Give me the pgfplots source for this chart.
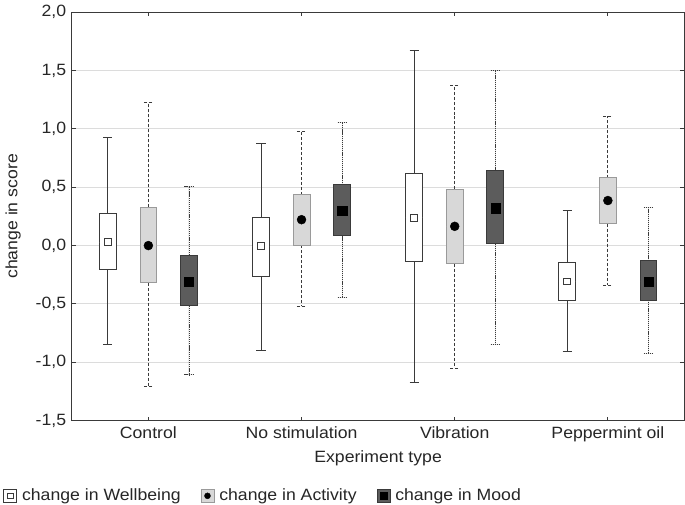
\documentclass[border=0pt]{standalone}
\usepackage{fontspec}
\setmainfont[FakeStretch=1.08]{Liberation Sans}
\usepackage{pgfplots}
\pgfplotsset{compat=1.18}
\usepgfplotslibrary{statistics}
\definecolor{axgray}{HTML}{3A3A3A}
\definecolor{actfill}{HTML}{D8D8D8}
\definecolor{actdraw}{HTML}{9A9A9A}
\definecolor{moodfill}{HTML}{5C5C5C}
\definecolor{gridc}{HTML}{DCDCDC}
\pgfplotsset{
  wbox/.style={forget plot, draw=axgray, fill=white, line width=0.9pt, solid,
    boxplot/every whisker/.style={solid, draw=axgray},
    boxplot/every median/.style={draw=none}},
  abox/.style={forget plot, draw=actdraw, fill=actfill, line width=0.9pt, solid,
    boxplot/every whisker/.style={draw=axgray, dash pattern=on 3pt off 2pt},
    boxplot/every median/.style={draw=none}},
  mbox/.style={forget plot, draw=axgray, fill=moodfill, line width=0.9pt, solid,
    boxplot/every whisker/.style={draw=axgray, dash pattern=on 1.2pt off 0.9pt},
    boxplot/every median/.style={draw=none}},
}
\newcommand{\bp}[7]{\addplot[#1, boxplot/draw direction=y, boxplot prepared={draw position=#2, lower whisker=#3, lower quartile=#4, median=#5, upper quartile=#6, upper whisker=#7, box extend=0.11, whisker extend=0.06}] coordinates {};}
\begin{document}
\fontsize{16.4}{19}\selectfont
\begin{tikzpicture}
\begin{axis}[
  scale only axis, width=615pt, height=410pt,
  xmin=-0.5, xmax=3.5, ymin=-1.5, ymax=2.0,
  xtick={0,1,2,3},
  xticklabels={Control, No stimulation, Vibration, Peppermint oil},
  ytick={-1.5,-1.0,-0.5,0,0.5,1.0,1.5,2.0},
  yticklabel style={/pgf/number format/.cd, fixed, fixed zerofill, precision=1, use comma, assume math mode=true},
  ymajorgrids, grid style={gridc, line width=1pt},
  tick align=inside, tick pos=both, major tick length=4pt,
  tick style={axgray, line width=0.9pt},
  axis line style={axgray, line width=1.1pt},
  xlabel={Experiment type}, ylabel={change in score},
  xlabel style={yshift=2pt}, ylabel style={yshift=4pt},
  ticklabel style={text=black!85},
  label style={text=black!85},
  legend style={at={(axis description cs:-0.112,-0.207)}, anchor=south west, draw=none, fill=none,
    inner sep=0pt, legend columns=3, text=black!85,
    /tikz/every even column/.append style={column sep=18pt},
    /tikz/every odd column/.append style={column sep=3pt}},
  legend cell align=left,
]
\addlegendimage{legend image code/.code={\draw[fill=white, draw=axgray, line width=0.8pt] (0pt,-6.5pt) rectangle (13pt,6.5pt); \draw[fill=white, draw=axgray, line width=0.8pt] (3.8pt,-2.7pt) rectangle (9.2pt,2.7pt);}}
\addlegendentry{change in Wellbeing}
\addlegendimage{legend image code/.code={\draw[fill=actfill, draw=actdraw, line width=0.8pt] (0pt,-6.5pt) rectangle (13pt,6.5pt); \fill[black] (6.5pt,0pt) circle (3pt);}}
\addlegendentry{change in Activity}
\addlegendimage{legend image code/.code={\draw[fill=moodfill, draw=axgray, line width=0.8pt] (0pt,-6.5pt) rectangle (13pt,6.5pt); \fill[black] (3.2pt,-3.3pt) rectangle (9.8pt,3.3pt);}}
\addlegendentry{change in Mood}

% Control
\bp{wbox}{-0.265}{-0.85}{-0.205}{0.03}{0.275}{0.927}
\bp{abox}{0}{-1.205}{-0.32}{0.0}{0.33}{1.225}
\bp{mbox}{0.265}{-1.108}{-0.514}{-0.31}{-0.083}{0.505}
% No stimulation
\bp{wbox}{0.735}{-0.90}{-0.264}{-0.006}{0.245}{0.878}
\bp{abox}{1}{-0.52}{0.003}{0.222}{0.437}{0.975}
\bp{mbox}{1.265}{-0.443}{0.088}{0.30}{0.52}{1.055}
% Vibration
\bp{wbox}{1.735}{-1.176}{-0.139}{0.241}{0.62}{1.668}
\bp{abox}{2}{-1.05}{-0.156}{0.165}{0.483}{1.375}
\bp{mbox}{2.265}{-0.85}{0.014}{0.321}{0.642}{1.503}
% Peppermint oil
\bp{wbox}{2.735}{-0.906}{-0.466}{-0.307}{-0.142}{0.301}
\bp{abox}{3}{-0.341}{0.188}{0.386}{0.58}{1.108}
\bp{mbox}{3.265}{-0.923}{-0.466}{-0.31}{-0.13}{0.33}

% centre markers
\addplot[forget plot, only marks, mark=square*, mark size=3.5pt, mark options={fill=white, draw=axgray, line width=0.8pt, solid}]
  coordinates {(-0.265,0.03) (0.735,-0.006) (1.735,0.241) (2.735,-0.307)};
\addplot[forget plot, only marks, mark=*, mark size=4.5pt, mark options={fill=black, draw=black, solid}]
  coordinates {(0,0.0) (1,0.222) (2,0.165) (3,0.386)};
\addplot[forget plot, only marks, mark=square*, mark size=4.6pt, mark options={fill=black, draw=black, solid}]
  coordinates {(0.265,-0.31) (1.265,0.30) (2.265,0.321) (3.265,-0.31)};
\end{axis}
\end{tikzpicture}
\end{document}
